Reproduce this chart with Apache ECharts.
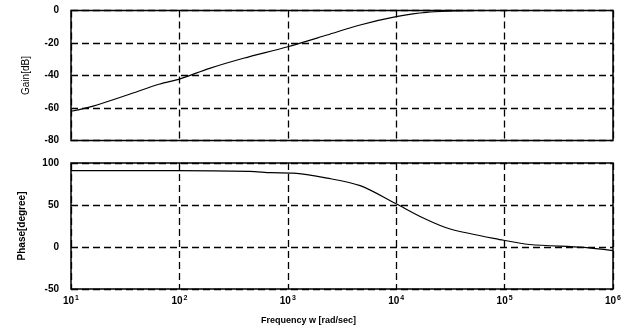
<!DOCTYPE html>
<html>
<head>
<meta charset="utf-8">
<script src="https://cdn.jsdelivr.net/npm/echarts@6/dist/echarts.min.js"></script>
<style>
  html, body { margin: 0; padding: 0; background: #fff; }
  #chart { width: 633px; height: 329px; }
</style>
</head>
<body>
<div id="chart"></div>
<script>
// gain curve
const gainFreq = [10, 16, 33, 66, 100, 190, 390, 1000, 2300, 4650, 10000, 19000, 55000]
const gainDb = [-62, -58.8, -52, -45.2, -42.2, -35.6, -29.4, -22.3, -15.1, -8.9, -3.8, -1.1, 0]

// phase curve
const phaseFreq = [10, 94, 447, 700, 1120, 2300, 4650, 9800, 17800, 31500, 98000, 170000, 540000, 1000000]
const phaseDeg = [91, 91, 90, 88.5, 88, 82, 73, 52, 34.5, 21.4, 8, 3, -0.5, -4.4]

const labelFont = { color: '#000', fontSize: 10, fontWeight: 'bold', fontFamily: 'Liberation Sans' }

const chart = echarts.init(document.getElementById('chart'))

function pairs(xs, ys) {
  return xs.map((x, i) => [x, ys[i]])
}

const dashed = { show: true, lineStyle: { color: '#000', type: [7, 4], width: 1.3 } }

const xBase = {
  type: 'log',
  logBase: 10,
  min: 10,
  max: 1000000,
  axisLine: { show: false },
  axisTick: { show: false },
  splitLine: dashed
}

const option = {
  animation: false,
  title: {
    text: 'Frequency w [rad/sec]',
    left: 256,
    top: 311,
    textStyle: { color: '#000', fontSize: 9, fontWeight: 'bold', fontFamily: 'Liberation Sans' }
  },
  grid: [
    { left: 71, right: 20, top: 10.5, height: 130, show: true, borderColor: '#000', borderWidth: 1.5 },
    { left: 71, right: 20, top: 163, height: 126, show: true, borderColor: '#000', borderWidth: 1.5 }
  ],
  xAxis: [
    Object.assign({ gridIndex: 0, axisLabel: { show: false } }, xBase),
    Object.assign({
      gridIndex: 1,
      axisLabel: {
        margin: 6,
        formatter: function(v) {
          return '{a|10}{b|' + Math.round(Math.log10(v)) + '}'
        },
        rich: {
          a: labelFont,
          b: Object.assign({}, labelFont, { fontSize: 7, padding: [0, 0, 6, 1] })
        }
      }
    }, xBase)
  ],
  yAxis: [
    {
      gridIndex: 0,
      min: -80,
      max: 0,
      interval: 20,
      name: 'Gain[dB]',
      nameLocation: 'middle',
      nameGap: 40,
      nameTextStyle: { color: '#000', fontSize: 10, fontFamily: 'Liberation Sans' },
      axisLine: { show: false },
      axisTick: { show: false },
      axisLabel: Object.assign({ margin: 12 }, labelFont),
      splitLine: dashed
    },
    {
      gridIndex: 1,
      min: -50,
      max: 100,
      interval: 50,
      name: 'Phase[degree]',
      nameLocation: 'middle',
      nameGap: 44,
      nameTextStyle: { color: '#000', fontSize: 10, fontWeight: 'bold', fontFamily: 'Liberation Sans' },
      axisLine: { show: false },
      axisTick: { show: false },
      axisLabel: Object.assign({ margin: 12 }, labelFont),
      splitLine: dashed
    }
  ],
  series: [
    {
      type: 'line',
      xAxisIndex: 0,
      yAxisIndex: 0,
      data: pairs(gainFreq, gainDb),
      showSymbol: false,
      smooth: 0.3,
      lineStyle: { color: '#000', width: 1.2 }
    },
    {
      type: 'line',
      xAxisIndex: 1,
      yAxisIndex: 1,
      data: pairs(phaseFreq, phaseDeg),
      showSymbol: false,
      smooth: 0.3,
      lineStyle: { color: '#000', width: 1.2 }
    }
  ]
}

chart.setOption(option)
</script>
</body>
</html>
